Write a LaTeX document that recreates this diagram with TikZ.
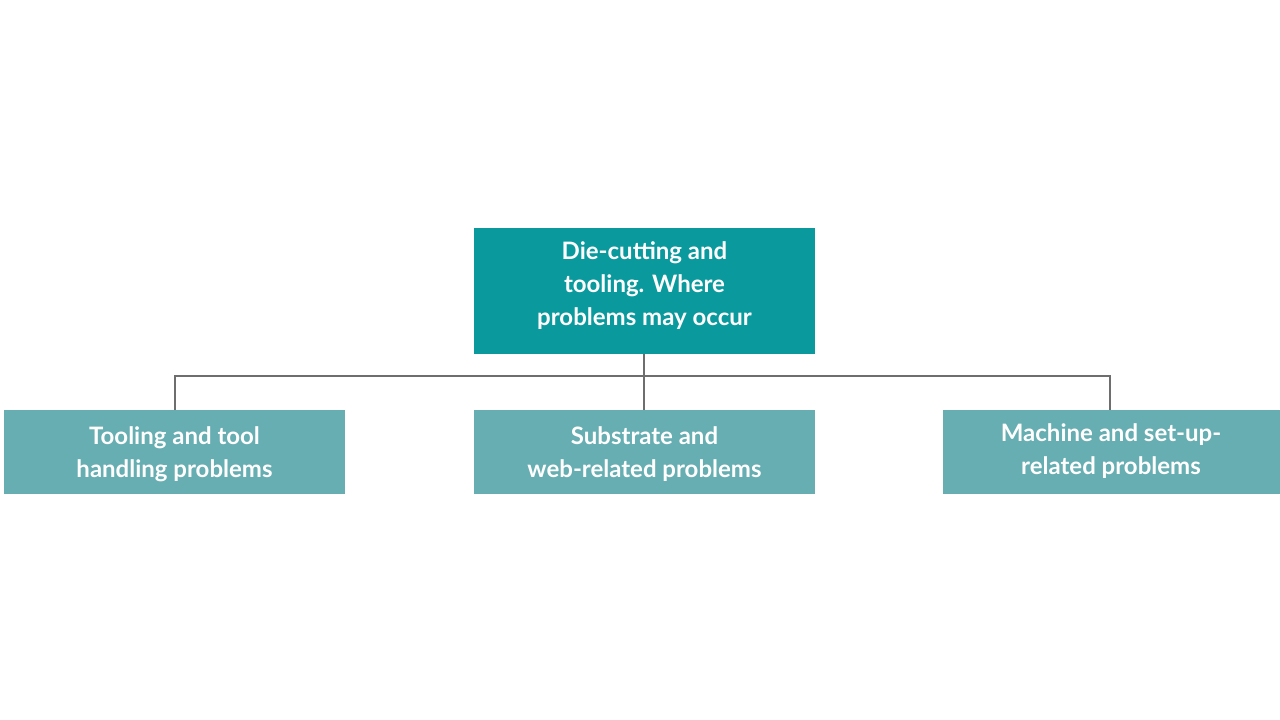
\documentclass[tikz,border=0pt]{standalone}
\usepackage{fontspec}
\setmainfont{Lato}
\definecolor{topc}{HTML}{0A9A9E}
\definecolor{subc}{HTML}{66AEB2}
\definecolor{linec}{HTML}{6E6E6E}
\begin{document}
\begin{tikzpicture}[x=1pt,y=-1pt,
  box/.style={draw=none,text=white,font=\fontsize{24}{33}\selectfont\bfseries,align=center,inner sep=0pt},
  conn/.style={draw=linec,line width=1.2pt}]
\useasboundingbox (0,0) rectangle (1280,720);
\fill[topc] (474,228) rectangle (815,354);
\node[box] (top) at (644.5,286) {Die-cutting and\\tooling. Where\\problems may occur};
\fill[subc] (4,410) rectangle (345,494);
\fill[subc] (474,410) rectangle (815,494);
\fill[subc] (943,410) rectangle (1280,494);
\node[box] (a) at (174.5,454) {Tooling and tool\\handling problems};
\node[box] (b) at (644.5,454) {Substrate and\\web-related problems};
\node[box] (c) at (1111,451) {Machine and set-up-\\related problems};
\coordinate (tb) at (644,354);
\coordinate (hl) at (175,376);
\coordinate (hr) at (1110,376);
\coordinate (ab) at (175,410);
\coordinate (bb) at (644,410);
\coordinate (cb) at (1110,410);
\draw[conn] (tb) -- (bb);
\draw[conn] (ab) -- (hl) -- (hr) -- (cb);
\end{tikzpicture}
\end{document}
